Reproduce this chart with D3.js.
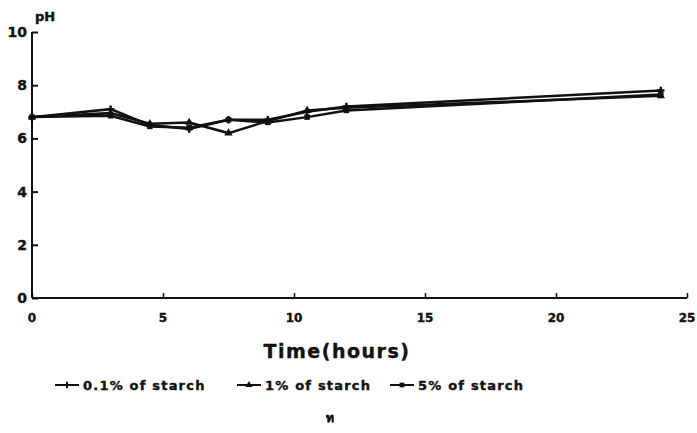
<!DOCTYPE html>
<html>
<head>
<meta charset="utf-8">
<script src="https://cdn.jsdelivr.net/npm/d3@7"></script>
<style>
  body { margin: 0; background: #fff; }
  text { font-family: "DejaVu Sans", sans-serif; font-weight: bold; fill: #111; stroke: #111; stroke-width: 0.4px; }
</style>
</head>
<body>
<div id="chart"></div>
<script>
// sampling times (hours)
const hours = [0, 3, 4.5, 6, 7.5, 9, 10.5, 12, 24];
// pH readings per starch level
const starch01 = [6.8, 7.1, 6.5, 6.35, 6.7, 6.7, 7.0, 7.2, 7.8];
const starch1 = [6.8, 6.95, 6.55, 6.6, 6.2, 6.65, 7.05, 7.15, 7.6];
const starch5 = [6.8, 6.85, 6.45, 6.4, 6.7, 6.6, 6.8, 7.05, 7.65];
const seriesNames = ["0.1% of starch", "1% of starch", "5% of starch"];
const xTicks = [0, 5, 10, 15, 20, 25];
const yTicks = [0, 2, 4, 6, 8, 10];

const W = 697, H = 433;
const svg = d3.select("#chart").append("svg")
    .attr("width", W)
    .attr("height", H);

const x = d3.scaleLinear().domain([0, 25]).range([32, 687]);
const y = d3.scaleLinear().domain([0, 10]).range([298, 32]);

const series = [
    { name: seriesNames[0], values: starch01, symbol: d3.symbolCross },
    { name: seriesNames[1], values: starch1, symbol: d3.symbolTriangle },
    { name: seriesNames[2], values: starch5, symbol: d3.symbolSquare }
];

// y axis
const yAxis = svg.append("g")
    .attr("transform", "translate(" + x(0) + ",0)")
    .call(d3.axisRight(y).tickValues(yTicks).tickSize(6).tickFormat(""));
yAxis.select(".domain").attr("stroke", "#111").attr("stroke-width", 2)
    .attr("d", "M0," + y(0) + "V" + y(10));
yAxis.selectAll(".tick line").attr("stroke", "#111").attr("stroke-width", 2);

svg.selectAll(".ylab")
    .data(yTicks)
    .enter().append("text")
    .attr("class", "ylab")
    .attr("x", 27)
    .attr("y", d => y(d) + 5)
    .attr("text-anchor", "end")
    .style("font-size", "14px")
    .text(d => d);

svg.append("text")
    .attr("x", 35)
    .attr("y", 21)
    .style("font-size", "13px")
    .text("pH");

// x axis
const xAxis = svg.append("g")
    .attr("transform", "translate(0," + y(0) + ")")
    .call(d3.axisTop(x).tickValues(xTicks).tickSize(5).tickFormat(""));
xAxis.select(".domain").attr("stroke", "#111").attr("stroke-width", 2)
    .attr("d", "M" + x(0) + ",0H" + x(25));
xAxis.selectAll(".tick line").attr("stroke", "#111").attr("stroke-width", 1.5);

svg.selectAll(".xlab")
    .data(xTicks)
    .enter().append("text")
    .attr("class", "xlab")
    .attr("x", d => x(d))
    .attr("y", 322)
    .attr("text-anchor", "middle")
    .style("font-size", "12px")
    .text(d => d);

svg.append("text")
    .attr("x", 337)
    .attr("y", 358)
    .attr("text-anchor", "middle")
    .style("font-size", "19px")
    .style("letter-spacing", "1.5px")
    .text("Time(hours)");

// lines
const line = d3.line()
    .x((d, i) => x(hours[i]))
    .y(d => y(d));

const g = svg.append("g");
series.forEach(s => {
    g.append("path")
        .datum(s.values)
        .attr("fill", "none")
        .attr("stroke", "#111")
        .attr("stroke-width", 2.5)
        .attr("d", line);
    g.selectAll(null)
        .data(s.values)
        .enter().append("path")
        .attr("transform", (d, i) => "translate(" + x(hours[i]) + "," + y(d) + ")")
        .attr("d", d3.symbol().type(s.symbol).size(30))
        .attr("fill", "#111");
});

// legend
const legendX = [55, 237, 390];
const legend = svg.selectAll(".legend")
    .data(series)
    .enter().append("g")
    .attr("class", "legend")
    .attr("transform", (d, i) => "translate(" + legendX[i] + ",385)");
legend.append("line")
    .attr("x1", 0).attr("x2", 24)
    .attr("stroke", "#111").attr("stroke-width", 2);
legend.append("path")
    .attr("transform", "translate(12,0)")
    .attr("d", d => d3.symbol().type(d.symbol).size(22)())
    .attr("fill", "#111");
legend.append("text")
    .attr("x", 28)
    .attr("y", 5)
    .style("font-size", "13px")
    .style("letter-spacing", "1.2px")
    .text(d => d.name);

svg.append("text")
    .attr("x", 330)
    .attr("y", 422)
    .attr("text-anchor", "middle")
    .style("font-size", "12px")
    .style("font-family", "'Noto Sans', sans-serif")
    .text("ท");
</script>
</body>
</html>
